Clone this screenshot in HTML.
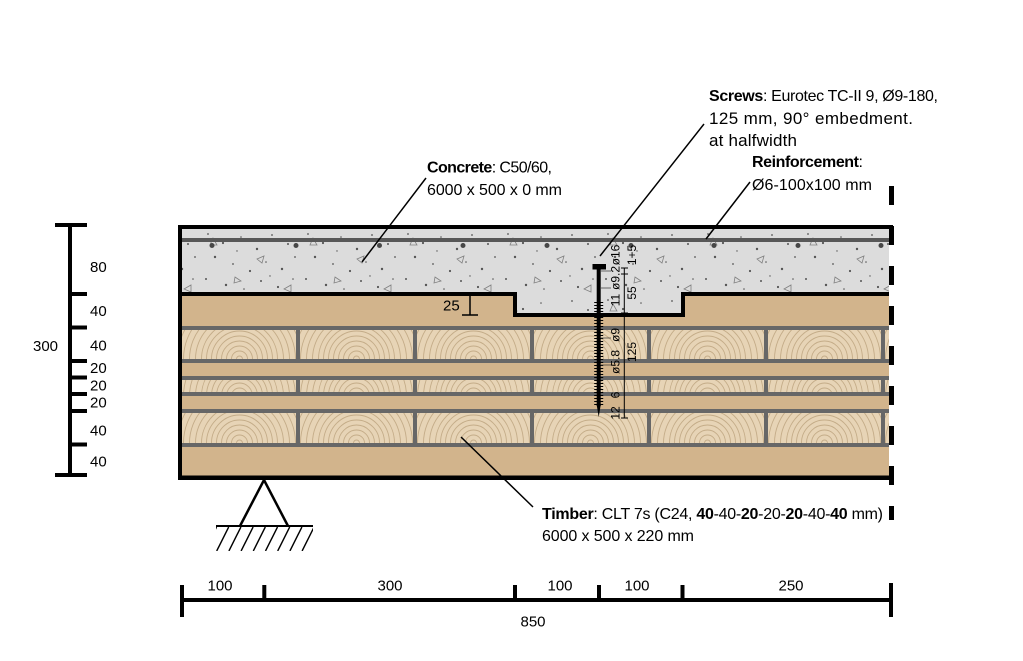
<!DOCTYPE html>
<html>
<head>
<meta charset="utf-8">
<style>
html,body{margin:0;padding:0;background:#fff;}
svg{display:block;}
</style>
</head>
<body>
<svg width="1023" height="661" viewBox="0 0 1023 661" xmlns="http://www.w3.org/2000/svg" font-family="'Liberation Sans', Arial, sans-serif">
<defs>
  <pattern id="conc" patternUnits="userSpaceOnUse" x="0" y="229" width="100" height="66">
    <rect width="100" height="66" fill="#dcdcdc"/>
    <g fill="#555">
      <circle cx="8" cy="5" r="0.9"/><circle cx="23" cy="14" r="1.1"/><circle cx="41" cy="8" r="0.8"/>
      <circle cx="57" cy="20" r="1.2"/><circle cx="72" cy="6" r="0.9"/><circle cx="88" cy="15" r="1"/>
      <circle cx="15" cy="28" r="1.2"/><circle cx="33" cy="35" r="0.9"/><circle cx="50" cy="42" r="1.1"/>
      <circle cx="66" cy="33" r="0.8"/><circle cx="82" cy="40" r="1.2"/><circle cx="95" cy="28" r="0.9"/>
      <circle cx="6" cy="50" r="1"/><circle cx="26" cy="56" r="1.2"/><circle cx="44" cy="60" r="0.8"/>
      <circle cx="61" cy="52" r="1"/><circle cx="78" cy="58" r="1.1"/><circle cx="93" cy="50" r="0.8"/>
      <circle cx="37" cy="22" r="0.7"/><circle cx="70" cy="47" r="0.7"/>
    </g>
    <g fill="none" stroke="#808080" stroke-width="0.8">
      <polygon points="10,16 17,16 13,9"/>
      <polygon points="57,30 64,27 62,34"/>
      <polygon points="84,60 91,56 91,63"/>
      <polygon points="35,48 41,52 34,54"/>
    </g>
  </pattern>
  <pattern id="wA" patternUnits="userSpaceOnUse" x="181" y="330" width="117" height="29">
    <rect width="117" height="29" fill="#e7d4b6"/>
    <g fill="none" stroke="#c4ac88" stroke-width="0.9">
      <circle cx="58.5" cy="29" r="3"/><circle cx="58.5" cy="29" r="8"/><circle cx="58.5" cy="29" r="13"/>
      <circle cx="58.5" cy="29" r="18"/><circle cx="58.5" cy="29" r="23"/><circle cx="58.5" cy="29" r="28"/>
      <circle cx="58.5" cy="29" r="33"/><circle cx="58.5" cy="29" r="38"/><circle cx="58.5" cy="29" r="44"/>
      <circle cx="58.5" cy="29" r="50"/><circle cx="58.5" cy="29" r="56"/><circle cx="58.5" cy="29" r="62"/>
      <circle cx="58.5" cy="29" r="68"/><circle cx="58.5" cy="29" r="75"/><circle cx="58.5" cy="29" r="82"/>
    </g>
  </pattern>
  <pattern id="wB" patternUnits="userSpaceOnUse" x="181" y="380" width="117" height="12">
    <rect width="117" height="12" fill="#e7d4b6"/>
    <g fill="none" stroke="#c4ac88" stroke-width="0.9">
      <circle cx="58.5" cy="16" r="8"/><circle cx="58.5" cy="16" r="13"/>
      <circle cx="58.5" cy="16" r="18"/><circle cx="58.5" cy="16" r="23"/><circle cx="58.5" cy="16" r="28"/>
      <circle cx="58.5" cy="16" r="33"/><circle cx="58.5" cy="16" r="38"/><circle cx="58.5" cy="16" r="44"/>
      <circle cx="58.5" cy="16" r="50"/><circle cx="58.5" cy="16" r="56"/><circle cx="58.5" cy="16" r="62"/>
      <circle cx="58.5" cy="16" r="68"/><circle cx="58.5" cy="16" r="75"/>
    </g>
  </pattern>
  <pattern id="wC" patternUnits="userSpaceOnUse" x="181" y="413" width="117" height="30">
    <rect width="117" height="30" fill="#e7d4b6"/>
    <g fill="none" stroke="#c4ac88" stroke-width="0.9">
      <circle cx="58.5" cy="30" r="3"/><circle cx="58.5" cy="30" r="8"/><circle cx="58.5" cy="30" r="13"/>
      <circle cx="58.5" cy="30" r="18"/><circle cx="58.5" cy="30" r="23"/><circle cx="58.5" cy="30" r="28"/>
      <circle cx="58.5" cy="30" r="33"/><circle cx="58.5" cy="30" r="38"/><circle cx="58.5" cy="30" r="44"/>
      <circle cx="58.5" cy="30" r="50"/><circle cx="58.5" cy="30" r="56"/><circle cx="58.5" cy="30" r="62"/>
      <circle cx="58.5" cy="30" r="68"/><circle cx="58.5" cy="30" r="75"/><circle cx="58.5" cy="30" r="82"/>
    </g>
  </pattern>
  <clipPath id="hclip"><rect x="216" y="527" width="97" height="24"/></clipPath>
</defs>

<!-- Timber base -->
<rect x="182" y="294" width="707" height="182" fill="#d2b48c"/>
<rect x="182" y="330" width="707" height="29" fill="url(#wA)"/>
<rect x="182" y="380" width="707" height="12" fill="url(#wB)"/>
<rect x="182" y="413" width="707" height="30" fill="url(#wC)"/>
<g fill="#676767">
  <rect x="182" y="326" width="707" height="4"/>
  <rect x="182" y="359" width="707" height="4"/>
  <rect x="182" y="376" width="707" height="4"/>
  <rect x="182" y="392" width="707" height="4"/>
  <rect x="182" y="409" width="707" height="4"/>
  <rect x="182" y="443" width="707" height="4"/>
  <rect x="296" y="330" width="4" height="29"/><rect x="296" y="380" width="4" height="12"/><rect x="296" y="413" width="4" height="30"/>
  <rect x="413" y="330" width="4" height="29"/><rect x="413" y="380" width="4" height="12"/><rect x="413" y="413" width="4" height="30"/>
  <rect x="530" y="330" width="4" height="29"/><rect x="530" y="380" width="4" height="12"/><rect x="530" y="413" width="4" height="30"/>
  <rect x="647" y="330" width="4" height="29"/><rect x="647" y="380" width="4" height="12"/><rect x="647" y="413" width="4" height="30"/>
  <rect x="764" y="330" width="4" height="29"/><rect x="764" y="380" width="4" height="12"/><rect x="764" y="413" width="4" height="30"/>
  <rect x="881" y="330" width="4" height="29"/><rect x="881" y="380" width="4" height="12"/><rect x="881" y="413" width="4" height="30"/>
</g>

<!-- Concrete -->
<path d="M182,229 H889 V294 H683 V315 H515 V294 H182 Z" fill="url(#conc)"/>
<rect x="182" y="238" width="707" height="4" fill="#585858"/>
<g fill="#474747">
  <circle cx="212" cy="245.5" r="2.5"/><circle cx="296" cy="245.5" r="2.5"/><circle cx="379.5" cy="245.5" r="2.5"/>
  <circle cx="463" cy="245.5" r="2.5"/><circle cx="547" cy="245.5" r="2.5"/><circle cx="631" cy="245.5" r="2.5"/>
  <circle cx="714" cy="245.5" r="2.5"/><circle cx="798" cy="245.5" r="2.5"/><circle cx="881" cy="245.5" r="2.5"/>
</g>

<!-- Borders -->
<path d="M182,294 H515 V315 H683 V294 H889" fill="none" stroke="#000" stroke-width="4" stroke-linejoin="miter"/>
<rect x="178" y="225" width="715" height="4" fill="#000"/>
<rect x="178" y="225" width="4" height="255" fill="#000"/>
<rect x="178" y="475.5" width="715" height="4.5" fill="#000"/>
<line x1="891.5" y1="186" x2="891.5" y2="520" stroke="#000" stroke-width="5" stroke-dasharray="19 21"/>

<!-- 25 dimension -->
<text x="443" y="310.5" font-size="15" fill="#000">25</text>
<line x1="470" y1="296" x2="470" y2="315" stroke="#000" stroke-width="1.5"/>
<line x1="462" y1="315" x2="478" y2="315" stroke="#000" stroke-width="1.5"/>

<!-- Screw -->
<rect x="592.5" y="264" width="13.5" height="5.5" fill="#000"/>
<rect x="596.7" y="269" width="4" height="137" fill="#000"/>
<polygon points="596.7,405 600.7,405 598.7,417" fill="#000"/>
<line x1="598.7" y1="302" x2="598.7" y2="405" stroke="#000" stroke-width="9" stroke-dasharray="1 2"/>
<g stroke="#333" stroke-width="0.7">
  <line x1="601" y1="271" x2="611" y2="271"/>
  <line x1="601" y1="288" x2="611" y2="288"/>
  <line x1="601" y1="338" x2="611" y2="338"/>
  <line x1="601" y1="365" x2="611" y2="365"/>
</g>
<g stroke="#000" stroke-width="1">
  <line x1="624.3" y1="268" x2="624.3" y2="418"/>
  <line x1="621" y1="268" x2="628" y2="268"/>
  <line x1="621" y1="274" x2="628" y2="274"/>
  <line x1="621" y1="313" x2="628" y2="313"/>
  <line x1="621" y1="418" x2="628" y2="418"/>
</g>
<g font-size="12" fill="#000" text-anchor="middle" dominant-baseline="central">
  <text transform="translate(615.5,255) rotate(-90)">ø16</text>
  <text transform="translate(615.5,278) rotate(-90)">ø9.2</text>
  <text transform="translate(615.5,300) rotate(-90)">11</text>
  <text transform="translate(615.5,335) rotate(-90)">ø9</text>
  <text transform="translate(615.5,362) rotate(-90)">ø5.8</text>
  <text transform="translate(615.5,395) rotate(-90)">6</text>
  <text transform="translate(615.5,413) rotate(-90)">12</text>
  <text transform="translate(632,255) rotate(-90)">1+5</text>
  <text transform="translate(632,293) rotate(-90)">55</text>
  <text transform="translate(632,352) rotate(-90)">125</text>
</g>

<!-- Leaders -->
<g stroke="#000" stroke-width="1.5">
  <line x1="426" y1="178" x2="362" y2="262"/>
  <line x1="704" y1="124" x2="600" y2="256"/>
  <line x1="750" y1="182" x2="706" y2="239"/>
  <line x1="533" y1="507" x2="461" y2="437"/>
</g>

<!-- Labels -->
<g font-size="16" fill="#000">
  <text x="427" y="172.5" textLength="125" lengthAdjust="spacing"><tspan font-weight="bold">Concrete</tspan>: C50/60,</text>
  <text x="427" y="195" textLength="135" lengthAdjust="spacing">6000 x 500 x 0 mm</text>
  <text x="709" y="101" textLength="229" lengthAdjust="spacing"><tspan font-weight="bold">Screws</tspan>: Eurotec TC-II 9, Ø9-180,</text>
  <text x="709" y="124" font-size="17" textLength="204" lengthAdjust="spacing">125 mm, 90° embedment.</text>
  <text x="709" y="146" font-size="17" textLength="88" lengthAdjust="spacing">at halfwidth</text>
  <text x="752" y="167" textLength="111" lengthAdjust="spacing"><tspan font-weight="bold">Reinforcement</tspan>:</text>
  <text x="752" y="190" textLength="120" lengthAdjust="spacing">Ø6-100x100 mm</text>
  <text x="542" y="519" textLength="341" lengthAdjust="spacing"><tspan font-weight="bold">Timber</tspan>: CLT 7s (C24, <tspan font-weight="bold">40</tspan>-40-<tspan font-weight="bold">20</tspan>-20-<tspan font-weight="bold">20</tspan>-40-<tspan font-weight="bold">40</tspan> mm)</text>
  <text x="542" y="541" textLength="152" lengthAdjust="spacing">6000 x 500 x 220 mm</text>
</g>

<!-- Support -->
<polyline points="240,526 264,480 288,526" fill="none" stroke="#000" stroke-width="2.5" stroke-linejoin="miter"/>
<line x1="216" y1="526" x2="313" y2="526" stroke="#000" stroke-width="2"/>
<g clip-path="url(#hclip)" stroke="#000" stroke-width="1.4">
  <line x1="204.5" y1="551" x2="216.5" y2="527"/>
  <line x1="216.7" y1="551" x2="228.7" y2="527"/>
  <line x1="228.9" y1="551" x2="240.9" y2="527"/>
  <line x1="241.1" y1="551" x2="253.1" y2="527"/>
  <line x1="253.3" y1="551" x2="265.3" y2="527"/>
  <line x1="265.5" y1="551" x2="277.5" y2="527"/>
  <line x1="277.7" y1="551" x2="289.7" y2="527"/>
  <line x1="289.9" y1="551" x2="301.9" y2="527"/>
  <line x1="302.1" y1="551" x2="314.1" y2="527"/>
</g>

<!-- Left dimension stack -->
<g fill="#000">
  <rect x="68" y="225" width="4" height="252"/>
  <rect x="55" y="223" width="32" height="4"/>
  <rect x="55" y="473" width="32" height="4"/>
  <rect x="70" y="292" width="17" height="4"/>
  <rect x="70" y="325.5" width="17" height="4"/>
  <rect x="70" y="359" width="17" height="4"/>
  <rect x="70" y="375.5" width="17" height="4"/>
  <rect x="70" y="392" width="17" height="4"/>
  <rect x="70" y="409" width="17" height="4"/>
  <rect x="70" y="442.5" width="17" height="4"/>
</g>
<g font-size="15" fill="#000">
  <text x="90" y="272">80</text>
  <text x="90" y="316">40</text>
  <text x="90" y="350.5">40</text>
  <text x="90" y="373">20</text>
  <text x="90" y="390.5">20</text>
  <text x="90" y="407.5">20</text>
  <text x="90" y="435.5">40</text>
  <text x="90" y="466.5">40</text>
  <text x="33" y="351">300</text>
</g>

<!-- Bottom dimension -->
<g fill="#000">
  <rect x="180" y="598" width="713" height="4"/>
  <rect x="180" y="585" width="4" height="32"/>
  <rect x="889" y="583" width="4" height="34"/>
  <rect x="262.3" y="585" width="4" height="15"/>
  <rect x="513" y="585" width="4" height="15"/>
  <rect x="597" y="585" width="4" height="15"/>
  <rect x="680.5" y="585" width="4" height="15"/>
</g>
<g font-size="15" fill="#000" text-anchor="middle">
  <text x="220" y="590.5">100</text>
  <text x="390" y="590.5">300</text>
  <text x="560" y="590.5">100</text>
  <text x="637" y="590.5">100</text>
  <text x="791" y="590.5">250</text>
  <text x="533" y="626.5">850</text>
</g>
</svg>
</body>
</html>
